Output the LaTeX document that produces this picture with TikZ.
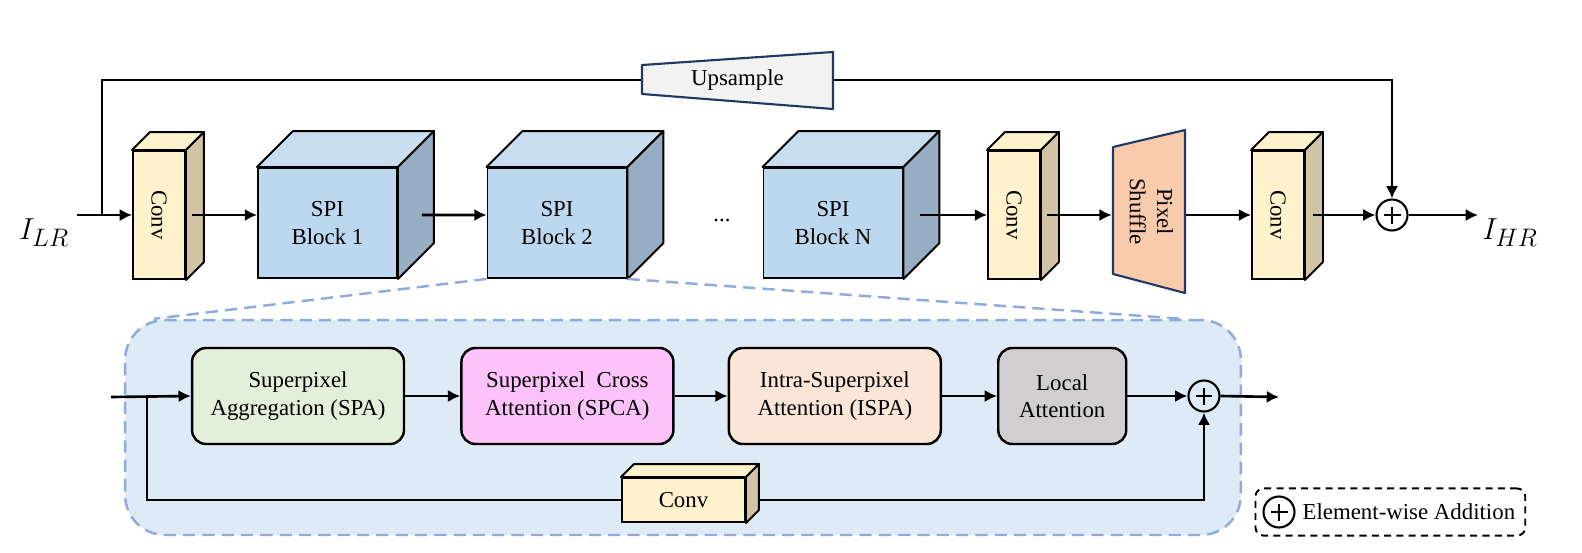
\documentclass[tikz,border=0pt]{standalone}
\usepackage{fontspec}
\setmainfont{Liberation Serif}
\usepackage{tikz}
\usetikzlibrary{positioning,fit,calc,arrows.meta}

\definecolor{convfront}{HTML}{FFF2CC}
\definecolor{convside}{HTML}{D0C4A4}
\definecolor{spifront}{HTML}{BDD7EE}
\definecolor{spitop}{HTML}{C9DDF1}
\definecolor{spiside}{HTML}{97ADC3}
\definecolor{navy}{HTML}{1F3864}
\definecolor{upfill}{HTML}{F2F2F2}
\definecolor{psfill}{HTML}{F8CBAD}
\definecolor{regionfill}{HTML}{DEEBF7}
\definecolor{regionline}{HTML}{8FAADC}
\definecolor{spafill}{HTML}{E2EFDA}
\definecolor{spcafill}{HTML}{FCC3FB}
\definecolor{ispafill}{HTML}{FBE5D6}
\definecolor{localfill}{HTML}{D0CECE}

\begin{document}
\begin{tikzpicture}[->,>={Latex[length=7pt,width=7pt]},x=0.02cm,y=-0.02cm,line width=1.5pt,
  every node/.style={font=\fontsize{13}{15.5}\selectfont},
  convbox/.style={draw,fill=convfront,line width=1.1pt,inner sep=0},
  spibox/.style={draw,fill=spifront,line width=1.1pt,minimum width=2.78cm,minimum height=2.2cm,align=center},
  attn/.style={draw,rounded corners=0.28cm,line width=1.4pt,minimum width=4.24cm,minimum height=1.92cm,align=center},
  addop/.style={circle,draw,line width=1.2pt,minimum size=0.62cm,inner sep=0,
    path picture={\draw[-,line width=1.2pt]
      ([xshift=-0.17cm]path picture bounding box.center) -- ([xshift=0.17cm]path picture bounding box.center)
      ([yshift=-0.17cm]path picture bounding box.center) -- ([yshift=0.17cm]path picture bounding box.center);}}]
  \tikzstyle{face} = [-,draw,line width=1.1pt,line join=round]
  \tikzstyle{navybox} = [-,draw=navy,line width=1.2pt,line join=round]
  \tikzstyle{zoomline} = [-,draw=regionline,line width=1.4pt,dash pattern=on 7pt off 4pt]
  \useasboundingbox (0,0) rectangle (1582,552);

  % SPI block detail
  \node (region) at (683,427.5) [draw=regionline,fill=regionfill,line width=1.4pt,dash pattern=on 7pt off 4pt,
    rounded corners=0.8cm,minimum width=22.32cm,minimum height=4.3cm] {};

  % main row
  \node (lr) at (44,233) [font=\fontsize{19}{22}\selectfont] {$I_{LR}$};
  \coordinate (lrin) at (77,215);
  \coordinate (split) at (102,215);
  \node (conv1) at (159,215) [convbox,minimum width=1.04cm,minimum height=2.56cm] {\rotatebox{-90}{Conv}};
  \node (spi1) at (327.5,223) [spibox] {SPI\\Block 1};
  \node (spi2) at (557,223) [spibox] {SPI\\Block 2};
  \node (dots) at (722,220) {...};
  \node (spin) at (833,223) [spibox] {SPI\\Block N};
  \node (conv2) at (1014,215) [convbox,minimum width=1.04cm,minimum height=2.56cm] {\rotatebox{-90}{Conv}};
  \draw[navybox,fill=psfill] (1113,147) -- (1185,130) -- (1185,293) -- (1113,274) -- cycle;
  \node (shuffle) at (1149,211.5) [minimum width=1.44cm,minimum height=2.5cm,inner sep=0]
    {\rotatebox{-90}{\begin{tabular}{@{}c@{}}Pixel\\Shuffle\end{tabular}}};
  \node (conv3) at (1278,215) [convbox,minimum width=1.04cm,minimum height=2.56cm] {\rotatebox{-90}{Conv}};
  \node (add1) at (1392,215) [addop] {};
  \coordinate (hrin) at (1478,215);
  \node (hr) at (1510,233) [font=\fontsize{19}{22}\selectfont] {$I_{HR}$};
  \draw[navybox,fill=upfill] (642,65) -- (833,52) -- (833,109) -- (642,94) -- cycle;
  \node (upsample) at (737.5,80) [minimum width=3.82cm,minimum height=0.58cm] {Upsample};

  % inner row
  \coordinate (blkin) at (111,397);
  \coordinate (branch) at (147,397);
  \node (spa) at (298,396) [attn,fill=spafill] {Superpixel\\Aggregation (SPA)};
  \node (spca) [attn,fill=spcafill,right=1.1cm of spa] {Superpixel~~Cross\\Attention (SPCA)};
  \node (ispa) [attn,fill=ispafill,right=1.06cm of spca] {Intra-Superpixel\\Attention (ISPA)};
  \node (local) [attn,fill=localfill,minimum width=2.56cm,right=1.1cm of ispa] {Local\\Attention};
  \node (add2) [addop,right=1.2cm of local] {};
  \coordinate (blkout) at (1279,397);
  \node (conv4) at (683.5,500) [convbox,minimum width=2.46cm,minimum height=0.88cm] {Conv};

  % cuboid faces
  \foreach \n/\d in {conv1/18,conv2/18,conv3/18,conv4/13} {
    \draw[face,fill=convfront] (\n.north west) -- ++(\d,-\d) -- ([shift={(\d,-\d)}]\n.north east) -- (\n.north east) -- cycle;
    \draw[face,fill=convside] (\n.north east) -- ++(\d,-\d) -- ([shift={(\d,-\d)}]\n.south east) -- (\n.south east) -- cycle;
  }
  \foreach \n in {spi1,spi2,spin} {
    \draw[face,fill=spitop] (\n.north west) -- ++(36,-36) -- ([shift={(36,-36)}]\n.north east) -- (\n.north east) -- cycle;
    \draw[face,fill=spiside] (\n.north east) -- ++(36,-36) -- ([shift={(36,-36)}]\n.south east) -- (\n.south east) -- cycle;
  }

  \draw[zoomline] (spi2.south west) -- ([xshift=0.6cm]region.north west);
  \draw[zoomline] (spi2.south east) -- ([xshift=-1.2cm]region.north east);

  % connectors
  \draw (lrin) -- (conv1.west);
  \draw[-] (split) |- (upsample.west);
  \draw (upsample.east) -| (add1.north);
  \draw ([xshift=0.12cm]conv1.east) -- (spi1.west |- conv1.east);
  \draw ([shift={(24,-8)}]spi1.east) -- ([yshift=0.16cm]spi2.west);
  \draw ([shift={(17,-8)}]spin.east) -- (conv2.west);
  \draw ([xshift=0.12cm]conv2.east) -- (shuffle.west |- conv2.east);
  \draw (shuffle.east |- conv3.east) -- (conv3.west);
  \draw ([xshift=0.16cm]conv3.east) -- (add1.west);
  \draw (add1.east) -- (hrin);

  \draw (blkin) -- (spa.west);
  \draw (spa) -- (spca);
  \draw (spca) -- (ispa);
  \draw (ispa) -- (local);
  \draw (local) -- (add2);
  \draw (add2.east) -- (blkout);
  \draw[-] (branch) |- (conv4.west);
  \draw ([xshift=0.26cm]conv4.east) -| (add2.south);

  % legend
  \node (lgadd) at (1279,512) [addop] {};
  \node (lgtxt) [right=0.08cm of lgadd,inner sep=1pt] {Element-wise Addition};
  \node (legend) [draw,line width=1.1pt,dash pattern=on 4pt off 3pt,rounded corners=0.16cm,inner sep=0.14cm,fit=(lgadd)(lgtxt)] {};
\end{tikzpicture}
\end{document}
